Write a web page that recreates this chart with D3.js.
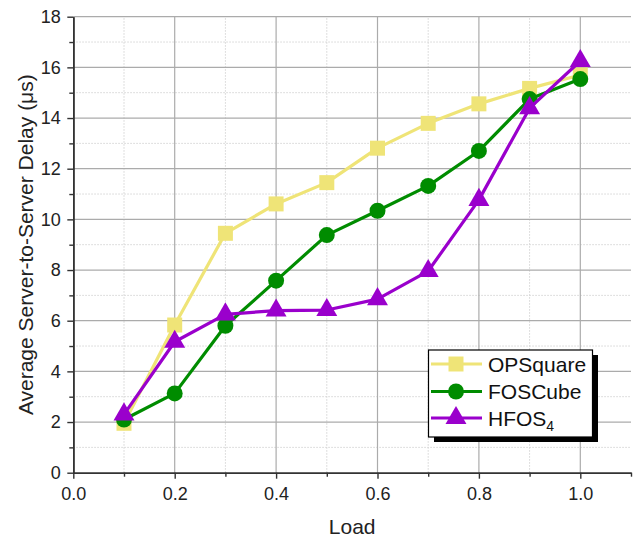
<!DOCTYPE html>
<html><head><meta charset="utf-8">
<script src="https://cdn.jsdelivr.net/npm/d3@7"></script>
<style>body{margin:0;background:#fff}svg{display:block;font-family:"Liberation Sans",Arial,sans-serif}</style>
</head><body><svg id="c" width="636" height="537"></svg>
<script>
const loads = [0.1,0.2,0.3,0.4,0.5,0.6,0.7,0.8,0.9,1.0];
const opsquare = [1.95,5.83,9.45,10.61,11.45,12.81,13.79,14.56,15.17,15.7];
const foscube = [2.1,3.13,5.8,7.58,9.38,10.34,11.32,12.7,14.75,15.54];
const hfos4 = [2.3,5.17,6.25,6.4,6.42,6.85,7.96,10.77,14.39,16.25];
const xTicks = [0,0.2,0.4,0.6,0.8,1.0];
const yTicks = [0,2,4,6,8,10,12,14,16,18];
const seriesNames = ["OPSquare","FOSCube","HFOS"];
const colors = ["#EFE477","#008C00","#9A00CC"];

const svg = d3.select("#c");
const x = d3.scaleLinear().domain([0,1.1]).range([73.3,631]);
const y = d3.scaleLinear().domain([0,18]).range([472.7,16.7]);

// grid
const xMinor = d3.range(0.1,1.1,0.2).map(v=>+v.toFixed(1));
const yMinor = d3.range(1,18,2);
const g = svg.append("g");
g.selectAll(".xm").data(xMinor).join("line").attr("x1",d=>x(d)).attr("x2",d=>x(d)).attr("y1",y(0)).attr("y2",y(18))
 .attr("stroke","#d4d4d4").attr("stroke-width",1).attr("stroke-dasharray","1.5,1.5");
g.selectAll(".ym").data(yMinor).join("line").attr("y1",d=>y(d)).attr("y2",d=>y(d)).attr("x1",x(0)).attr("x2",x(1.1))
 .attr("stroke","#d4d4d4").attr("stroke-width",1).attr("stroke-dasharray","1.5,1.5");
g.selectAll(".xg").data(xTicks.filter(d=>d>0)).join("line").attr("x1",d=>x(d)).attr("x2",d=>x(d)).attr("y1",y(0)).attr("y2",y(18))
 .attr("stroke","#ababab").attr("stroke-width",1.2);
g.selectAll(".yg").data(yTicks.filter(d=>d>0)).join("line").attr("y1",d=>y(d)).attr("y2",d=>y(d)).attr("x1",x(0)).attr("x2",x(1.1))
 .attr("stroke","#ababab").attr("stroke-width",1.2);

// axes
const xAxis = svg.append("g").attr("transform",`translate(0,${y(0)})`)
  .call(d3.axisBottom(x).tickValues(xTicks).tickFormat(d3.format(".1f")).tickSize(6).tickSizeOuter(0));
const xAxisMinor = svg.append("g").attr("transform",`translate(0,${y(0)})`)
  .call(d3.axisBottom(x).tickValues(xMinor.concat([1.1])).tickFormat("").tickSize(4).tickSizeOuter(0));
const yAxis = svg.append("g").attr("transform",`translate(${x(0)},0)`)
  .call(d3.axisLeft(y).tickValues(yTicks).tickSize(6).tickSizeOuter(0));
const yAxisMinor = svg.append("g").attr("transform",`translate(${x(0)},0)`)
  .call(d3.axisLeft(y).tickValues(yMinor).tickFormat("").tickSize(4).tickSizeOuter(0));
[xAxis,xAxisMinor,yAxis,yAxisMinor].forEach(a=>{
  a.select(".domain").attr("stroke","#333").attr("stroke-width",1.6);
  a.selectAll(".tick line").attr("stroke","#333").attr("stroke-width",1.4);
  a.selectAll("text").attr("font-size",18).attr("fill","#222").attr("font-family","Liberation Sans, Arial, sans-serif");
});
xAxis.selectAll("text").attr("y",27).attr("dy",0);
yAxis.selectAll("text").attr("x",-12.5);

svg.append("text").attr("x",x(0.55)).attr("y",534).attr("text-anchor","middle").attr("font-size",21).attr("fill","#222").text("Load");
svg.append("text").attr("transform",`translate(33,${y(9)}) rotate(-90)`).attr("text-anchor","middle").attr("font-size",21).attr("fill","#222")
  .text("Average Server-to-Server Delay (μs)");

const all = [opsquare,foscube,hfos4];
const line = d3.line().x((d,i)=>x(loads[i])).y(d=>y(d));
const sym = [d3.symbolSquare,d3.symbolCircle,d3.symbolTriangle];
const symSize = [225,200,190];
all.forEach((vals,k)=>{
  svg.append("path").datum(vals).attr("d",line).attr("fill","none").attr("stroke",colors[k]).attr("stroke-width",3.2).attr("stroke-linejoin","round");
  svg.append("g").selectAll("path").data(vals).join("path")
    .attr("transform",(d,i)=>`translate(${x(loads[i])},${y(d)})`)
    .attr("d",d3.symbol().type(sym[k]).size(symSize[k])).attr("fill",colors[k]);
});

// legend
const lg = svg.append("g");
lg.append("rect").attr("x",434).attr("y",355).attr("width",164).attr("height",87).attr("fill","#000");
lg.append("rect").attr("x",428.5).attr("y",350).attr("width",164).attr("height",87).attr("fill","#fff").attr("stroke","#000").attr("stroke-width",1.2);
const rows = [364,391.5,418];
seriesNames.forEach((n,k)=>{
  lg.append("line").attr("x1",431).attr("x2",482).attr("y1",rows[k]).attr("y2",rows[k]).attr("stroke",colors[k]).attr("stroke-width",3.2);
  lg.append("path").attr("transform",`translate(456,${rows[k]})`).attr("d",d3.symbol().type(sym[k]).size(symSize[k])).attr("fill",colors[k]);
  const t = lg.append("text").attr("x",488).attr("y",rows[k]+7.5).attr("font-size",21).attr("fill","#111").text(n);
  if(k===2) t.append("tspan").attr("font-size",14).attr("dy",5).text("4");
});
</script></body></html>
